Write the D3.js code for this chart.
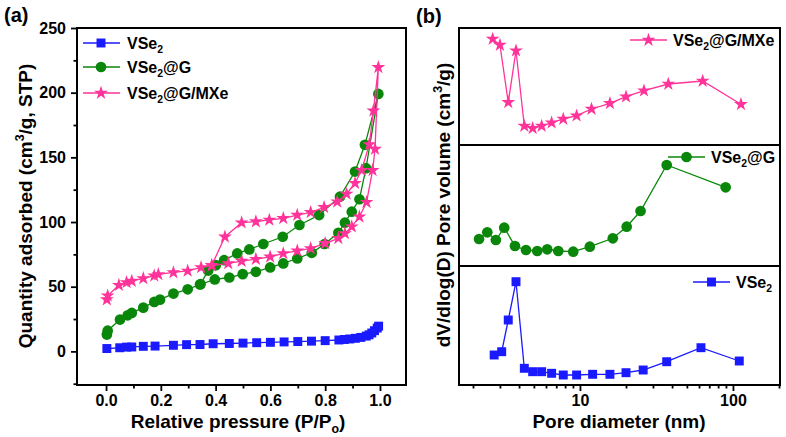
<!DOCTYPE html>
<html><head><meta charset="utf-8">
<script src="https://cdn.jsdelivr.net/npm/d3@7"></script>
<style>
body{margin:0;background:#fff}
text{font-family:"Liberation Sans",Arial,sans-serif;font-weight:bold;fill:#000}
</style>
</head><body>
<svg id="c" width="786" height="437"></svg>
<script>
// ---------- Panel (a): N2 isotherms ----------
const pVSe2 = [0.003,0.05,0.075,0.094,0.136,0.179,0.246,0.294,0.343,0.391,0.45,0.5,0.55,0.6,0.65,0.7,0.75,0.8,0.85,0.87,0.89,0.91,0.93,0.95,0.96,0.97,0.98,0.99,0.995];
const qVSe2 = [2.2,2.8,3.3,3.4,3.9,4.1,4.7,5.2,5.3,5.9,6.1,6.4,6.7,7.0,7.3,7.6,7.9,8.3,8.8,9.2,9.6,10.1,10.8,11.8,12.8,14.2,16,18,19.5];

const pG = [0.003,0.006,0.051,0.079,0.094,0.136,0.176,0.197,0.246,0.298,0.343,0.397,0.45,0.499,0.547,0.599,0.647,0.698,0.751,0.798,0.848,0.872,0.897,0.925,0.949,0.994,
            0.945,0.909,0.854,0.778,0.706,0.645,0.574,0.523,0.479,0.431,0.401,0.373,0.345];
const qG = [13,16,24.6,27.9,29.7,33.8,38.2,40,44.7,48,51.7,55.6,57.1,59.7,61.5,64.9,68,71.8,76.2,83,91.7,99.5,108,117.6,141.6,199,
            159.7,139,119.6,105.4,97.7,88.6,83,78.8,75.7,70.5,66.7,62.5,52];

const pGM = [0.003,0.006,0.047,0.075,0.094,0.136,0.176,0.191,0.246,0.298,0.347,0.386,0.446,0.495,0.547,0.599,0.647,0.698,0.747,0.8,0.848,0.872,0.897,0.925,0.951,0.973,0.982,0.994,
             0.976,0.961,0.933,0.909,0.878,0.844,0.796,0.747,0.698,0.647,0.596,0.547,0.495,0.434,0.386];
const qGM = [40,43,51.2,53.3,54.3,56.4,58.4,59.5,61,62.2,64.9,66.3,68,69.8,71.3,73.1,75.7,77.7,79.6,83.5,87.4,91.2,96.4,104.1,115.3,140,156.4,219.6,
             186,160,140,130,121.7,115.7,111.4,107.5,105.4,102.9,101.6,100.3,99.5,88.6,66.5];

const xTicksA = [0,0.2,0.4,0.6,0.8,1.0];
const xMinorA = [0.1,0.3,0.5,0.7,0.9];
const yTicksA = [0,50,100,150,200,250];
const yMinorA = [-25,25,75,125,175,225];

// ---------- Panel (b): pore size distributions (arbitrary units) ----------
const dGM = [2.69,3.0,3.40,3.82,4.33,4.91,5.62,6.53,7.78,9.51,11.9,15.7,20.0,26.2,37.8,63.4,112.8];
const vGM = [106,100,42.7,94.3,19,16.7,19,22.3,26,29.3,36,41.7,48.3,54.3,61,64,40.7];
const dG = [2.19,2.48,2.82,3.20,3.76,4.44,5.26,6.11,7.22,9.04,11.6,16.4,20.2,24.9,36.9,89.6];
const vG = [27,33.7,26,38.3,20,16,15,16.7,15,14.3,19.3,27.7,39.3,55,101,78.7];
const dV = [2.75,3.08,3.40,3.82,4.33,4.91,5.62,6.53,7.78,9.51,12.1,15.7,20.0,25.9,36.9,61.8,110];
const vV = [30,33.3,65,103.3,16.7,13.3,13.3,11.7,10,10,10.7,10.7,12.3,15,23.3,37.3,24];

const xTicksB = [10,100];
const xMinorB = [2,3,4,5,6,7,8,9,20,30,40,50,60,70,80,90,200];

const BLUE = "#1a1aff", GREEN = "#0a870a", PINK = "#ff3399";

const svg = d3.select("#c");

function rich(sel, parts, size){
  parts.forEach((p,i)=>{
    const t = sel.append("tspan").text(p.t);
    if(p.sub){ t.attr("font-size", size*0.65).attr("dy", size*0.28); }
    else if(p.sup){ t.attr("font-size", size*0.65).attr("dy", -size*0.4); }
    else if(i>0){ const prev = parts[i-1]; if(prev.sub) t.attr("dy", -size*0.28); if(prev.sup) t.attr("dy", size*0.4); }
  });
  return sel;
}

function sym(type, size){ return d3.symbol().type(type).size(size)(); }
const MARK = {sq: sym(d3.symbolSquare, 80), ci: sym(d3.symbolCircle, 90), st: sym(d3.symbolStar, 60)};

// ---------- Panel (a) ----------
const xA = d3.scaleLinear().domain([-0.106,1.095]).range([77,406]);
const yA = d3.scaleLinear().domain([-26,250]).range([385,28]);

function styleAxis(g){
  g.select(".domain").remove();
  g.selectAll(".tick line").attr("stroke","#000").attr("stroke-width",1.8);
  g.selectAll("text").attr("font-size",16).attr("font-family","Liberation Sans, Arial, sans-serif").attr("font-weight","bold").attr("fill","#000");
}

svg.append("g").attr("transform","translate(0,385)")
  .call(d3.axisBottom(xA).tickValues(xTicksA).tickFormat(d3.format(".1f")).tickSize(6).tickPadding(4)).call(styleAxis);
svg.append("g").attr("transform","translate(0,385)")
  .call(d3.axisBottom(xA).tickValues(xMinorA).tickFormat("").tickSize(3.5)).call(styleAxis);
svg.append("g").attr("transform","translate(77,0)")
  .call(d3.axisLeft(yA).tickValues(yTicksA).tickSize(6).tickPadding(5)).call(styleAxis);
svg.append("g").attr("transform","translate(77,0)")
  .call(d3.axisLeft(yA).tickValues(yMinorA).tickFormat("").tickSize(3.5)).call(styleAxis);

function series(xs, ys, sx, sy, color, mark){
  const pts = xs.map((x,i)=>[sx(x), sy(ys[i])]);
  svg.append("path").attr("d", d3.line()(pts)).attr("fill","none").attr("stroke",color).attr("stroke-width",1.3);
  svg.append("g").selectAll("path").data(pts).join("path")
    .attr("d", MARK[mark]).attr("transform", d=>`translate(${d[0]},${d[1]})`).attr("fill",color);
}
series(pVSe2, qVSe2, xA, yA, BLUE, "sq");
series(pG, qG, xA, yA, GREEN, "ci");
series(pGM, qGM, xA, yA, PINK, "st");

svg.append("rect").attr("x",77).attr("y",28).attr("width",329).attr("height",357)
  .attr("fill","none").attr("stroke","#000").attr("stroke-width",2);

// legend (a)
const legA = [
  {parts:[{t:"VSe"},{t:"2",sub:true}], c:BLUE, m:"sq", y:43},
  {parts:[{t:"VSe"},{t:"2",sub:true},{t:"@G"}], c:GREEN, m:"ci", y:67},
  {parts:[{t:"VSe"},{t:"2",sub:true},{t:"@G/MXe"}], c:PINK, m:"st", y:93}
];
legA.forEach(l=>{
  svg.append("line").attr("x1",83).attr("x2",120).attr("y1",l.y).attr("y2",l.y).attr("stroke",l.c).attr("stroke-width",1.3);
  svg.append("path").attr("d",MARK[l.m]).attr("transform",`translate(101,${l.y})`).attr("fill",l.c);
  rich(svg.append("text").attr("x",127).attr("y",l.y+6).attr("font-size",16), l.parts, 16);
});

rich(svg.append("text").attr("x",238).attr("y",428).attr("text-anchor","middle").attr("font-size",19),
  [{t:"Relative pressure (P/P"},{t:"o",sub:true},{t:")"}], 19);
rich(svg.append("text").attr("transform","translate(32,206) rotate(-90)").attr("text-anchor","middle").attr("font-size",19),
  [{t:"Quantity adsorbed (cm"},{t:"3",sup:true},{t:"/g, STP)"}], 19);
svg.append("text").attr("x",4).attr("y",22).attr("font-size",20).text("(a)");

// ---------- Panel (b) ----------
const xB = d3.scaleLog().domain([1.62,203]).range([459,780]);
const panels = [
  {d:dGM, v:vGM, top:28, bot:145, max:117, c:PINK, m:"st", parts:[{t:"VSe"},{t:"2",sub:true},{t:"@G/MXe"}], lx:630, ly:40},
  {d:dG, v:vG, top:145, bot:266, max:121, c:GREEN, m:"ci", parts:[{t:"VSe"},{t:"2",sub:true},{t:"@G"}], lx:668, ly:157},
  {d:dV, v:vV, top:266, bot:385, max:119, c:BLUE, m:"sq", parts:[{t:"VSe"},{t:"2",sub:true}], lx:693, ly:282}
];
svg.append("g").attr("transform","translate(0,385)")
  .call(d3.axisBottom(xB).tickValues(xTicksB).tickFormat(d3.format("d")).tickSize(6).tickPadding(4)).call(styleAxis);
svg.append("g").attr("transform","translate(0,385)")
  .call(d3.axisBottom(xB).tickValues(xMinorB).tickFormat("").tickSize(3.5)).call(styleAxis);

panels.forEach(p=>{
  const y = d3.scaleLinear().domain([0,p.max]).range([p.bot,p.top]);
  series(p.d, p.v, xB, y, p.c, p.m);
  svg.append("line").attr("x1",p.lx).attr("x2",p.lx+37).attr("y1",p.ly).attr("y2",p.ly).attr("stroke",p.c).attr("stroke-width",1.3);
  svg.append("path").attr("d",MARK[p.m]).attr("transform",`translate(${p.lx+18.5},${p.ly})`).attr("fill",p.c);
  rich(svg.append("text").attr("x",p.lx+43).attr("y",p.ly+6).attr("font-size",16), p.parts, 16);
});
svg.append("rect").attr("x",459).attr("y",28).attr("width",321).attr("height",357)
  .attr("fill","none").attr("stroke","#000").attr("stroke-width",2);
[145,266].forEach(yy=>svg.append("line").attr("x1",459).attr("x2",780).attr("y1",yy).attr("y2",yy).attr("stroke","#000").attr("stroke-width",2));

rich(svg.append("text").attr("x",619).attr("y",428).attr("text-anchor","middle").attr("font-size",19),
  [{t:"Pore diameter (nm)"}], 19);
rich(svg.append("text").attr("transform","translate(450,205) rotate(-90)").attr("text-anchor","middle").attr("font-size",19),
  [{t:"dV/dlog(D) Pore volume (cm"},{t:"3",sup:true},{t:"/g)"}], 19);
svg.append("text").attr("x",416).attr("y",23).attr("font-size",20).text("(b)");
</script>
</body></html>
